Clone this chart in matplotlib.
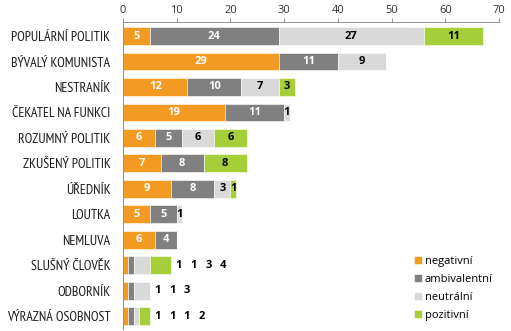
import matplotlib.pyplot as plt
import numpy as np

categories = ["POPULÁRNÍ POLITIK", "BÝVALÝ KOMUNISTA", "NESTRANÍK", "ČEKATEL NA FUNKCI",
              "ROZUMNÝ POLITIK", "ZKUŠENÝ POLITIK", "ÚŘEDNÍK", "LOUTKA", "NEMLUVA",
              "SLUŠNÝ ČLOVĚK", "ODBORNÍK", "VÝRAZNÁ OSOBNOST"]
negativni = [5, 29, 12, 19, 6, 7, 9, 5, 6, 1, 1, 1]
ambivalentni = [24, 11, 10, 11, 5, 8, 8, 5, 4, 1, 1, 1]
neutralni = [27, 9, 7, 1, 6, 0, 3, 1, 0, 3, 3, 1]
pozitivni = [11, 0, 3, 0, 6, 8, 1, 0, 0, 4, 0, 2]
series_names = ["negativní", "ambivalentní", "neutrální", "pozitivní"]
# rows whose values are written beside the bar instead of inside
outside_rows = [9, 10, 11]

colors = ["#F39A22", "#808080", "#D9D9D9", "#A6CE39"]
text_colors = ["white", "white", "black", "black"]
cat_font = ["PT Sans Narrow", "DejaVu Sans"]
plt.rcParams["font.family"] = ["Open Sans", "DejaVu Sans"]

fig = plt.figure(figsize=(5.11, 3.31), dpi=100)
ax = fig.add_axes([0.2407, 0.006, 0.7358, 0.9275])

data = [negativni, ambivalentni, neutralni, pozitivni]
y = np.arange(len(categories))
left = np.zeros(len(categories))
for vals, c, tc, name in zip(data, colors, text_colors, series_names):
    vals = np.array(vals, dtype=float)
    ax.barh(y, vals, left=left, height=0.7, color=c, label=name,
            edgecolor="white", linewidth=0.4)
    for i, v in enumerate(vals):
        if v > 0 and i not in outside_rows:
            ax.text(left[i] + v / 2, i, f"{int(v)}", ha="center", va="center",
                    color=tc, fontsize=8, fontweight="bold")
    left += vals

for i in outside_rows:
    vals = [d[i] for d in data if d[i] > 0]
    for k, v in enumerate(vals):
        ax.text(left[i] + 1.4 + 2.75 * k, i, f"{v}", ha="center", va="center",
                color="black", fontsize=8, fontweight="bold")

ax.set_xlim(0, 70)
ax.set_ylim(len(categories) - 0.5, -0.55)
ax.xaxis.tick_top()
ax.set_xticks(range(0, 71, 10))
ax.tick_params(axis="x", direction="out", length=3, width=0.6, color="#808080",
               labelsize=8, pad=1, labelcolor="#333333")
ax.set_yticks(y)
ax.set_yticklabels(categories, fontsize=10, family=cat_font, color="#1a1a1a")
ax.tick_params(axis="y", length=0, pad=9)
for s in ["right", "bottom"]:
    ax.spines[s].set_visible(False)
ax.spines["top"].set_color("#808080")
ax.spines["left"].set_color("#808080")
ax.spines["top"].set_linewidth(0.6)
ax.spines["left"].set_linewidth(0.6)

ax.legend(loc="lower right", bbox_to_anchor=(1.01, -0.005), frameon=False,
          handlelength=0.7, handleheight=0.7, handletextpad=0.25,
          labelspacing=0.62, prop={"size": 8})

fig.savefig("out.png", dpi=100)
